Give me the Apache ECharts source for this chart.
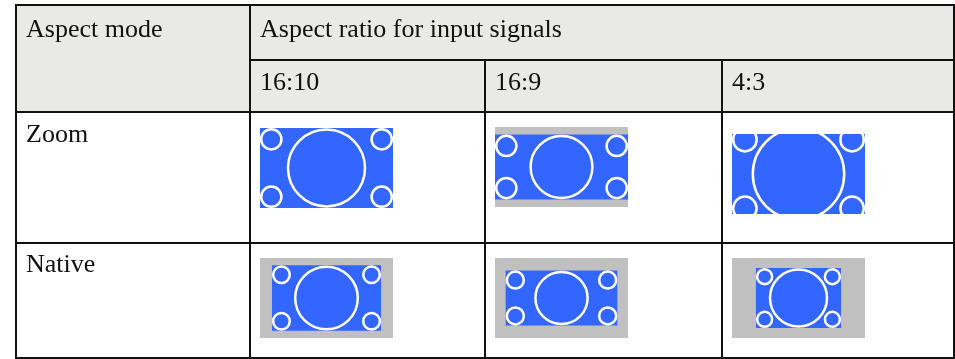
<!DOCTYPE html>
<html><head><meta charset="utf-8">
<script src="https://cdn.jsdelivr.net/npm/echarts@6/dist/echarts.min.js"></script>
<style>html,body{margin:0;padding:0;background:#fff}#c{width:955px;height:359px}</style>
</head><body><div id="c"></div>
<script>
// ---- data ----
const signals = ['16:10', '16:9', '4:3'];
const modes = ['Zoom', 'Native'];
const modeHeader = 'Aspect mode';
const signalHeader = 'Aspect ratio for input signals';
// displayed picture size, in % of the screen width / height
const zoomPictureWidth = [100, 100, 100];
const zoomPictureHeight = [100, 81, 118];
const nativePictureWidth = [82, 84, 64];
const nativePictureHeight = [82, 69, 75];

// ---- layout & style ----
const colEdges = [16, 250, 485, 722, 954];
const rowEdges = [5, 60, 112, 243, 358];
const baselineOffset = [33, 31, 31, 30];
const SCREEN_W = 133, SCREEN_H = 80, SCREEN_DX = 10;
const SCREEN_DY = [16, 15];
const NUDGE = [[0, -1, 6], [0, 0, 0]];
const smallFactor = [0.076, 0.076, 0.088];
const BLUE = '#3366ff', GRAY = '#c0c0c0', HEAD = '#e9e9e7', LINE = '#111';
const FONT_SIZE = 26;
const FONT = FONT_SIZE + 'px "Liberation Serif", "Times New Roman", serif';

const iconData = [];
modes.forEach((m, r) => signals.forEach((s, c) => {
  const w = r === 0 ? zoomPictureWidth[c] : nativePictureWidth[c];
  const h = r === 0 ? zoomPictureHeight[c] : nativePictureHeight[c];
  iconData.push([c, r, w, h]);
}));

const labelCells = [
  [0, 0, modeHeader],
  [1, 0, signalHeader]
].concat(signals.map((s, i) => [i + 1, 1, s]))
 .concat(modes.map((m, i) => [0, i + 2, m]));

const chart = echarts.init(document.getElementById('c'), null, { renderer: 'canvas' });

function rectShape(api, x0, y0, x1, y1) {
  const a = api.coord([x0, y0]), b = api.coord([x1, y1]);
  return { x: a[0], y: a[1], width: b[0] - a[0], height: b[1] - a[1] };
}

chart.setOption({
  animation: false,
  grid: { left: 0, right: 0, top: 0, bottom: 0 },
  xAxis: { type: 'value', min: 0, max: 955, show: false },
  yAxis: { type: 'value', min: 0, max: 359, inverse: true, show: false },
  series: [
    {
      type: 'custom', name: 'cells', z: 1, silent: true,
      data: [[0]],
      renderItem: (p, api) => ({
        type: 'rect',
        shape: rectShape(api, colEdges[0], rowEdges[0], colEdges[4], rowEdges[2]),
        style: { fill: HEAD }
      })
    },
    {
      type: 'custom', name: 'icons', z: 2, silent: true,
      data: iconData,
      renderItem: (p, api) => {
        const c = api.value(0), r = api.value(1);
        const sx = colEdges[c + 1] + SCREEN_DX;
        const sy = rowEdges[r + 2] + SCREEN_DY[r] + NUDGE[r][c];
        const tl = api.coord([sx, sy]);
        const br = api.coord([sx + SCREEN_W, sy + SCREEN_H]);
        const W = br[0] - tl[0], H = br[1] - tl[1];
        const pw = W * api.value(2) / 100, ph = H * api.value(3) / 100;
        const cx = tl[0] + W / 2, cy = tl[1] + H / 2;
        const px = cx - pw / 2, py = cy - ph / 2;
        const rs = pw * smallFactor[c];
        const off = rs + 1.2;
        const rb = ph / 2 - 1.5;
        const ring = { fill: BLUE, stroke: '#fff', lineWidth: 2.5 };
        const children = [
          { type: 'rect', shape: { x: tl[0], y: tl[1], width: W, height: H }, style: { fill: GRAY } },
          { type: 'rect', shape: { x: px, y: py, width: pw, height: ph }, style: { fill: BLUE } },
          { type: 'circle', shape: { cx: cx, cy: cy, r: rb }, style: ring },
          { type: 'circle', shape: { cx: px + off, cy: py + off, r: rs }, style: ring },
          { type: 'circle', shape: { cx: px + pw - off, cy: py + off, r: rs }, style: ring },
          { type: 'circle', shape: { cx: px + off, cy: py + ph - off, r: rs }, style: ring },
          { type: 'circle', shape: { cx: px + pw - off, cy: py + ph - off, r: rs }, style: ring }
        ];
        if (ph > H) {
          children.push({ type: 'rect', shape: { x: px - 3, y: py - 4, width: pw + 6, height: tl[1] - py + 4 }, style: { fill: '#fff' } });
          children.push({ type: 'rect', shape: { x: px - 3, y: br[1], width: pw + 6, height: py + ph - br[1] + 4 }, style: { fill: '#fff' } });
        }
        return { type: 'group', children: children };
      }
    },
    {
      type: 'custom', name: 'rules', z: 3, silent: true,
      data: [[0]],
      renderItem: (p, api) => {
        const segs = [
          [colEdges[0], rowEdges[0], colEdges[4], rowEdges[0]],
          [colEdges[0], rowEdges[4], colEdges[4], rowEdges[4]],
          [colEdges[1], rowEdges[1], colEdges[4], rowEdges[1]],
          [colEdges[0], rowEdges[2], colEdges[4], rowEdges[2]],
          [colEdges[0], rowEdges[3], colEdges[4], rowEdges[3]],
          [colEdges[0], rowEdges[0], colEdges[0], rowEdges[4]],
          [colEdges[1], rowEdges[0], colEdges[1], rowEdges[4]],
          [colEdges[2], rowEdges[1], colEdges[2], rowEdges[4]],
          [colEdges[3], rowEdges[1], colEdges[3], rowEdges[4]],
          [colEdges[4], rowEdges[0], colEdges[4], rowEdges[4]]
        ];
        return {
          type: 'group',
          children: segs.map(s => {
            const a = api.coord([s[0], s[1]]), b = api.coord([s[2], s[3]]);
            const horiz = s[1] === s[3];
            return {
              type: 'line',
              shape: horiz ? { x1: a[0] - 1, y1: a[1], x2: b[0] + 1, y2: b[1] } : { x1: a[0], y1: a[1] - 1, x2: b[0], y2: b[1] + 1 },
              style: { stroke: LINE, lineWidth: 2 }
            };
          })
        };
      }
    },
    {
      type: 'custom', name: 'labels', z: 4, silent: true,
      data: labelCells.map(l => [l[0], l[1]]),
      renderItem: (p, api) => {
        const l = labelCells[p.dataIndex];
        const c = l[0], r = l[1];
        const pt = api.coord([colEdges[c] + 10, rowEdges[r] + baselineOffset[r] - 0.305 * FONT_SIZE]);
        return {
          type: 'text',
          style: { text: l[2], x: pt[0], y: pt[1], font: FONT, fill: '#111', align: 'left', verticalAlign: 'middle' }
        };
      }
    }
  ]
});
</script></body></html>
